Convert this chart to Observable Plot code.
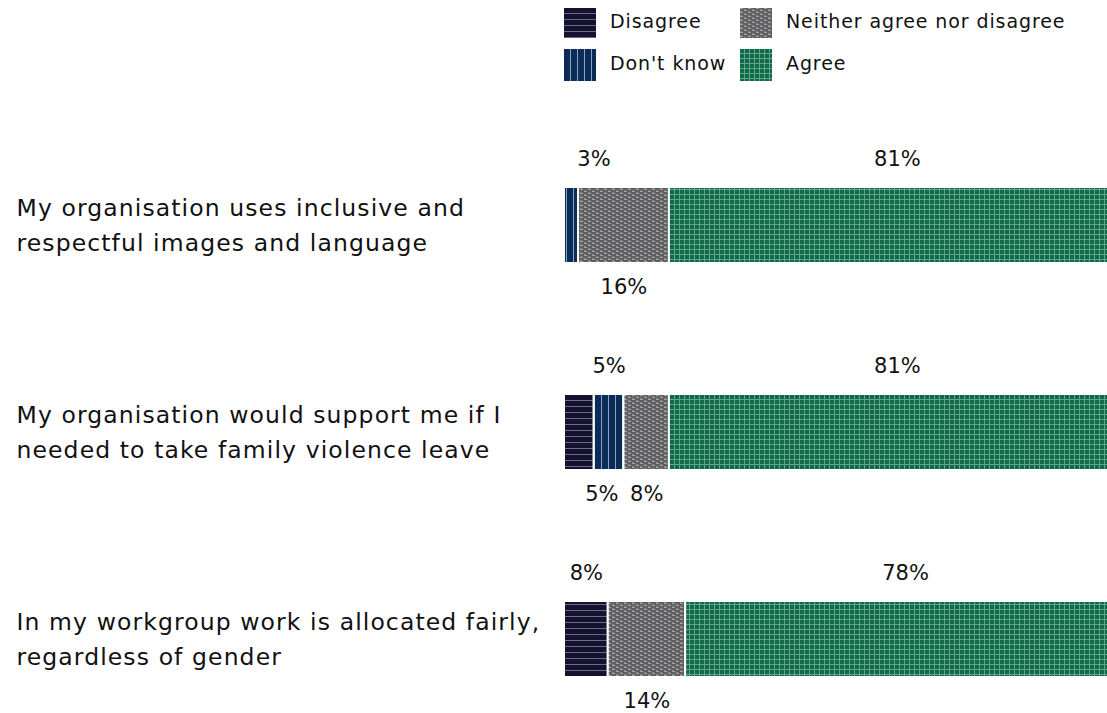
<!DOCTYPE html>
<html><head><meta charset="utf-8">
<script src="https://cdn.jsdelivr.net/npm/d3@7"></script>
<script src="https://cdn.jsdelivr.net/npm/@observablehq/plot@0.6"></script>
<style>
html,body{margin:0;padding:0;overflow:hidden;background:#fff;width:1107px;height:713px;}
body{font-family:"DejaVu Sans",sans-serif;color:#111;}
#legend{height:95px;box-sizing:border-box;padding:8px 0 0 564px;display:grid;grid-auto-flow:column;grid-template-rows:30px 32px;grid-template-columns:176px auto;row-gap:11px;}
.item{display:flex;align-items:center;font-size:19px;letter-spacing:0.9px;}
.item span{position:relative;top:-2px;}
.item svg{margin-right:14px;flex:none;}
#chart svg{display:block;overflow:visible;max-width:none !important;}
</style></head><body>
<svg width="0" height="0" style="position:absolute">
<defs>
<pattern id="pat-0" patternUnits="userSpaceOnUse" width="6" height="6">
<rect width="6" height="6" fill="#15122f"/><rect y="5" width="6" height="1" fill="#6c6888"/>
</pattern>
<pattern id="pat-1" patternUnits="userSpaceOnUse" width="7" height="7">
<rect width="7" height="7" fill="#0b2c57"/><rect x="6" width="1" height="7" fill="#8ba2c2"/>
</pattern>
<pattern id="pat-2" patternUnits="userSpaceOnUse" width="8" height="4">
<rect width="8" height="4" fill="#606063"/>
<rect x="0" y="0" width="3" height="1" fill="#a2a2a4"/>
<rect x="4" y="2" width="3" height="1" fill="#a2a2a4"/>
<rect x="4" y="1" width="2" height="1" fill="#838386"/>
<rect x="0" y="3" width="2" height="1" fill="#838386"/>
</pattern>
<pattern id="pat-3" patternUnits="userSpaceOnUse" width="5" height="5">
<rect width="5" height="5" fill="#0e6a4b"/><rect x="4" width="1" height="5" fill="#64a487"/><rect y="4" width="5" height="1" fill="#64a487"/>
</pattern>
</defs>
</svg>
<div id="legend"></div>
<div id="chart"></div>
<script>
// ---- data ----
const questions = [
  "My organisation uses inclusive and\nrespectful images and language",
  "My organisation would support me if I\nneeded to take family violence leave",
  "In my workgroup work is allocated fairly,\nregardless of gender"
];
const categories = ["Disagree", "Don't know", "Neither agree nor disagree", "Agree"];
const disagree = [0, 5.3, 7.8];
const dontKnow = [2.5, 5.3, 0];
const neither  = [16.2, 8.1, 13.8];
const agree    = [81.3, 81.3, 78.4];
const series = [disagree, dontKnow, neither, agree];
const patterns = categories.map((c, i) => `url(#pat-${i})`);

// ---- legend ----
const legend = document.getElementById("legend");
categories.forEach((c, i) => {
  const div = document.createElement("div");
  div.className = "item";
  div.innerHTML = `<svg width="32" height="${i % 2 ? 32 : 30}"><rect width="32" height="${i % 2 ? 32 : 30}" fill="${patterns[i]}"/></svg><span>${c}</span>`;
  legend.appendChild(div);
});

// ---- stacked rows ----
const rows = [];
questions.forEach((q, i) => {
  let x0 = 0;
  const segs = [];
  categories.forEach((c, j) => {
    const v = series[j][i];
    if (v > 0) { segs.push({question: q, category: c, x1: x0, x2: x0 + v, value: v}); x0 += v; }
  });
  segs.forEach((s, k) => {
    s.pos = (segs.length - 1 - k) % 2 === 0 ? "above" : "below";
    const mid = (s.x1 + s.x2) / 2;
    s.lx = (k === 0 && s.value < 6) ? mid + 4 : mid;
  });
  rows.push(...segs);
});

const chart = Plot.plot({
  width: 1125,
  height: 618,
  marginLeft: 564,
  marginRight: 0,
  marginTop: 71,
  marginBottom: 16,
  style: {fontFamily: "'DejaVu Sans', sans-serif", color: "#111", background: "transparent", maxWidth: "none"},
  x: {domain: [0, 100], axis: null},
  y: {domain: questions, axis: null, paddingInner: 0.635, paddingOuter: 0.1},
  color: {domain: categories, range: patterns},
  marks: [
    Plot.barX(rows, {x1: "x1", x2: "x2", y: "question", fill: "category", stroke: "white", strokeWidth: 2}),
    Plot.text(rows.filter(d => d.pos === "above"), {x: "lx", y: "question", text: d => Math.round(d.value) + "%", dy: -66, fontSize: 21, fill: "#111"}),
    Plot.text(rows.filter(d => d.pos === "below"), {x: "lx", y: "question", text: d => Math.round(d.value) + "%", dy: 62, fontSize: 21, fill: "#111"}),
    Plot.text(questions, {y: d => d, text: d => d, frameAnchor: "left", textAnchor: "start", dx: -548, dy: -3, fontSize: 23.5, lineHeight: 1.5, fill: "#111"})
  ]
});
const textGroups = d3.select(chart).selectAll('g[aria-label="text"]').nodes();
d3.select(textGroups[textGroups.length - 1]).style("letter-spacing", "1.1px");
document.getElementById("chart").appendChild(chart);
</script>
</body></html>
